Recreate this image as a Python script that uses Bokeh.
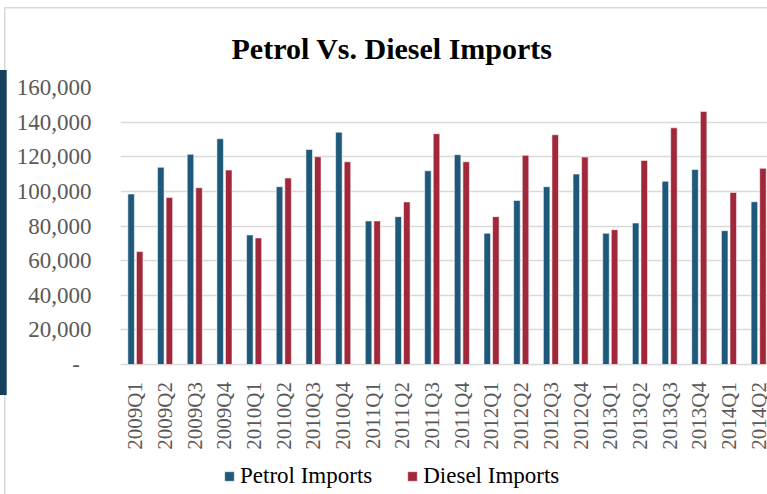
from math import pi
from bokeh.plotting import figure
from bokeh.models import (Range1d, FixedTicker, NumeralTickFormatter,
                          Legend, LegendItem, ColumnDataSource)
from bokeh.transform import dodge
from bokeh.embed import file_html
from bokeh.resources import INLINE

quarters = ["2009Q1", "2009Q2", "2009Q3", "2009Q4", "2010Q1", "2010Q2", "2010Q3", "2010Q4",
            "2011Q1", "2011Q2", "2011Q3", "2011Q4", "2012Q1", "2012Q2", "2012Q3", "2012Q4",
            "2013Q1", "2013Q2", "2013Q3", "2013Q4", "2014Q1", "2014Q2"]
petrol = [98500, 113900, 121400, 130400, 74800, 102700, 124200, 134200,
          82900, 85400, 111900, 121200, 75800, 94800, 102700, 110000,
          75800, 81700, 105800, 112700, 77300, 94000]
diesel = [65200, 96500, 102100, 112300, 73100, 107700, 120000, 117100,
          82900, 93900, 133300, 117100, 85400, 120800, 132700, 119800,
          77900, 117900, 136700, 146200, 99400, 113300]
y_ticks = [0, 20000, 40000, 60000, 80000, 100000, 120000, 140000, 160000]

PETROL_C = "#1e587a"
DIESEL_C = "#a0283a"
SERIF = "Liberation Serif"

idx = list(range(len(quarters)))

# canvas 767x494; plot frame x 120..767, y 87..494 (value 0 at y=364)
FW = 647
FH_VAL = 277                 # pixels from 160,000 down to 0
FH = 494 - 87
ypp = 160000 / FH_VAL        # value units per pixel
y_bottom = -(FH - FH_VAL) * ypp
label_y = -17.5 * ypp        # x labels start 17.5px below the zero line

src = ColumnDataSource(dict(x=idx, petrol=petrol, diesel=diesel, q=quarters,
                            ly=[label_y] * len(idx)))

bg = {
    "background-color": "white",
    "background-image": ("linear-gradient(#16405c,#16405c), "
                         "linear-gradient(#d9d9d9,#d9d9d9), "
                         "linear-gradient(#d9d9d9,#d9d9d9)"),
    "background-size": "6.7px 325px, 1.5px 100%, 100% 1.5px",
    "background-position": "0px 70px, 4px 7px, 4px 7px",
    "background-repeat": "no-repeat",
}

p = figure(frame_width=FW, frame_height=FH,
           min_border_left=120, min_border_right=0, min_border_top=87, min_border_bottom=0,
           x_range=Range1d(-0.5, 21.3), y_range=Range1d(y_bottom, 160000),
           output_backend="svg", toolbar_location=None, styles=bg)
p.outline_line_color = None
p.background_fill_color = "white"
p.border_fill_alpha = 0
p.xaxis.visible = False

r1 = p.vbar(x=dodge("x", -0.142, range=p.x_range), top="petrol", bottom=0, width=0.22,
            source=src, fill_color=PETROL_C, line_color="white", line_alpha=0.55, line_width=1)
r2 = p.vbar(x=dodge("x", 0.147, range=p.x_range), top="diesel", bottom=0, width=0.22,
            source=src, fill_color=DIESEL_C, line_color="white", line_alpha=0.55, line_width=1)

# category labels, rotated to read bottom-to-top
p.text(x="x", y="ly", text="q", source=src, angle=pi / 2,
       text_align="right", text_baseline="middle",
       text_font=SERIF, text_font_size="21px", text_color="#595959")

p.title.text = "Petrol Vs. Diesel Imports"
p.title.align = "left"
p.title.offset = 111
p.title.standoff = 45
p.title.text_font = SERIF
p.title.text_font_size = "30px"
p.title.text_font_style = "bold"
p.title.text_color = "black"

p.xgrid.grid_line_color = None
p.ygrid.grid_line_color = "#d9d9d9"
p.ygrid.grid_line_width = 1.5
p.ygrid.ticker = FixedTicker(ticks=y_ticks)

ya = p.yaxis[0]
ya.ticker = FixedTicker(ticks=y_ticks)
ya.formatter = NumeralTickFormatter(format="0,0")
ya.major_label_overrides = {0: "-\u2007"}
ya.axis_line_color = None
ya.major_tick_line_color = None
ya.minor_tick_line_color = None
ya.major_label_standoff = 23
ya.major_label_text_font = SERIF
ya.major_label_text_font_size = "23px"
ya.major_label_text_color = "#595959"

legend = Legend(items=[LegendItem(label="Petrol Imports", renderers=[r1]),
                       LegendItem(label="Diesel Imports", renderers=[r2])],
                orientation="horizontal", location=(103, 5),
                label_text_font=SERIF, label_text_font_size="23px", label_text_color="black",
                glyph_width=12, glyph_height=12, label_standoff=5, spacing=34,
                padding=0, margin=0, border_line_color=None, background_fill_alpha=0,
                label_height=24)
p.add_layout(legend, "center")

open("out.html", "w").write(file_html(p, INLINE))
